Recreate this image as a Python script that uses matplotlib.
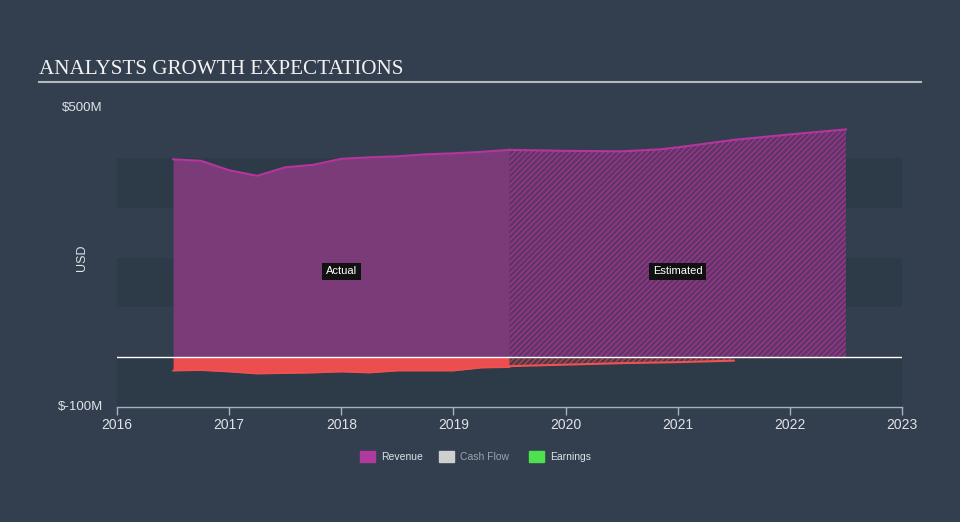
import matplotlib
matplotlib.use("Agg")
import matplotlib.pyplot as plt
from matplotlib.patches import Rectangle
import numpy as np

plt.rcParams["font.family"] = ["Liberation Sans", "DejaVu Sans"]

# ---- data ----
rev_actual_x = [2016.5, 2016.75, 2017.0, 2017.25, 2017.5, 2017.75, 2018.0, 2018.25, 2018.5, 2018.75, 2019.0, 2019.25, 2019.5]
rev_actual_y = [397, 394, 375, 364, 381, 386, 398, 401, 403, 407, 409, 412, 416]
rev_est_x = [2019.5, 2020.0, 2020.5, 2020.84, 2021.0, 2021.5, 2022.0, 2022.5]
rev_est_y = [416, 414, 413, 417, 421, 436, 447, 457]
earn_actual_x = [2016.5, 2016.75, 2017.0, 2017.25, 2017.5, 2017.75, 2018.0, 2018.25, 2018.5, 2018.75, 2019.0, 2019.25, 2019.5]
earn_actual_y = [-27, -26, -29, -33, -32, -31, -29, -31, -27, -27, -27, -21, -20]
earn_est_x = [2019.5, 2020.0, 2020.5, 2021.0, 2021.5]
earn_est_y = [-18, -15, -12, -10, -7]
x_ticks = [2016, 2017, 2018, 2019, 2020, 2021, 2022, 2023]
y_tick_labels = {500: "$500M", -100: "$-100M"}
bands = [(-100, 0), (100, 200), (300, 400)]
legend_items = [("Revenue", "#b0399e", "#dfe3e8"), ("Cash Flow", "#cfcfcf", "#9aa3ad"), ("Earnings", "#4fe04f", "#dfe3e8")]

BG = "#333f4f"
BAND = "#2d3a48"
REV_FILL = "#7b3a78"
REV_LINE = "#b5359e"
EARN_FILL = "#ec4e50"

fig = plt.figure(figsize=(9.6, 5.22), dpi=100, facecolor=BG)
ax = fig.add_axes([117/960, 1-407/522, (902-117)/960, (407-108)/522])
ax.set_facecolor(BG)
ax.set_xlim(2016, 2023)
ax.set_ylim(-100, 500)

for lo, hi in bands:
    ax.axhspan(lo, hi, color=BAND, zorder=0, lw=0)

# revenue actual
ax.fill_between(rev_actual_x, 0, rev_actual_y, color=REV_FILL, lw=0, zorder=2)
ax.plot(rev_actual_x, rev_actual_y, color=REV_LINE, lw=1.5, zorder=3)
# revenue estimated (hatched)
ax.fill_between(rev_est_x, 0, rev_est_y, facecolor="#5e3563", edgecolor="#9a3590",
                hatch="//////", lw=0, zorder=2)
ax.plot(rev_est_x, rev_est_y, color=REV_LINE, lw=1.5, zorder=3)

# earnings actual
ax.fill_between(earn_actual_x, 0, earn_actual_y, color=EARN_FILL, lw=0, zorder=2)
ax.plot(earn_actual_x, earn_actual_y, color="#f05254", lw=1.2, zorder=3)
# earnings estimated
ax.fill_between(earn_est_x, 0, earn_est_y, facecolor="#4a3a48", edgecolor="#b04450",
                hatch="//////", lw=0, zorder=2)
ax.plot(earn_est_x, earn_est_y, color="#f05254", lw=1.5, zorder=3)

# zero line
ax.axhline(0, color="white", lw=1, zorder=4)

# labels
ax.text(2018.0, 172, "Actual", color="white", fontsize=8, ha="center", va="center",
        bbox=dict(boxstyle="square,pad=0.35", fc="#111111", ec="none"), zorder=5)
ax.text(2021.0, 172, "Estimated", color="white", fontsize=8, ha="center", va="center",
        bbox=dict(boxstyle="square,pad=0.35", fc="#111111", ec="none"), zorder=5)

for s in ["top", "right", "left"]:
    ax.spines[s].set_visible(False)
ax.spines["bottom"].set_color("#a7b1bf")
ax.spines["bottom"].set_linewidth(1)
ax.set_xticks(x_ticks)
ax.set_xticklabels([str(t) for t in x_ticks])
ax.tick_params(axis="x", colors="#a7b1bf", length=6, width=1, labelcolor="#dfe3e8", labelsize=10, pad=2)
ax.set_yticks([])
for v, lab in y_tick_labels.items():
    ax.text(-0.018, v, lab, transform=ax.get_yaxis_transform(), ha="right", va="center",
            color="#dfe3e8", fontsize=9.5)
fig.text(82/960, 1-258/522, "USD", rotation=90, color="#dfe3e8", fontsize=9, ha="center", va="center")

# title
fig.text(39/960, 1-74/522, "ANALYSTS GROWTH EXPECTATIONS", family="Liberation Serif",
         color="#f2f2f2", fontsize=15.2, ha="left", va="baseline")
fig.add_artist(plt.Line2D([39/960, 921/960], [1-82/522, 1-82/522], color="#b5b9be", lw=1.5))

# legend
lx = [360, 439, 529]
for (name, c, tc), x0 in zip(legend_items, lx):
    fig.add_artist(Rectangle((x0/960, 1-462/522), 15/960, 11/522, color=c, transform=fig.transFigure))
    fig.text((x0+21)/960, 1-456.5/522, name, color=tc, fontsize=7.5, ha="left", va="center")

fig.savefig("out.png", dpi=100, facecolor=BG)
